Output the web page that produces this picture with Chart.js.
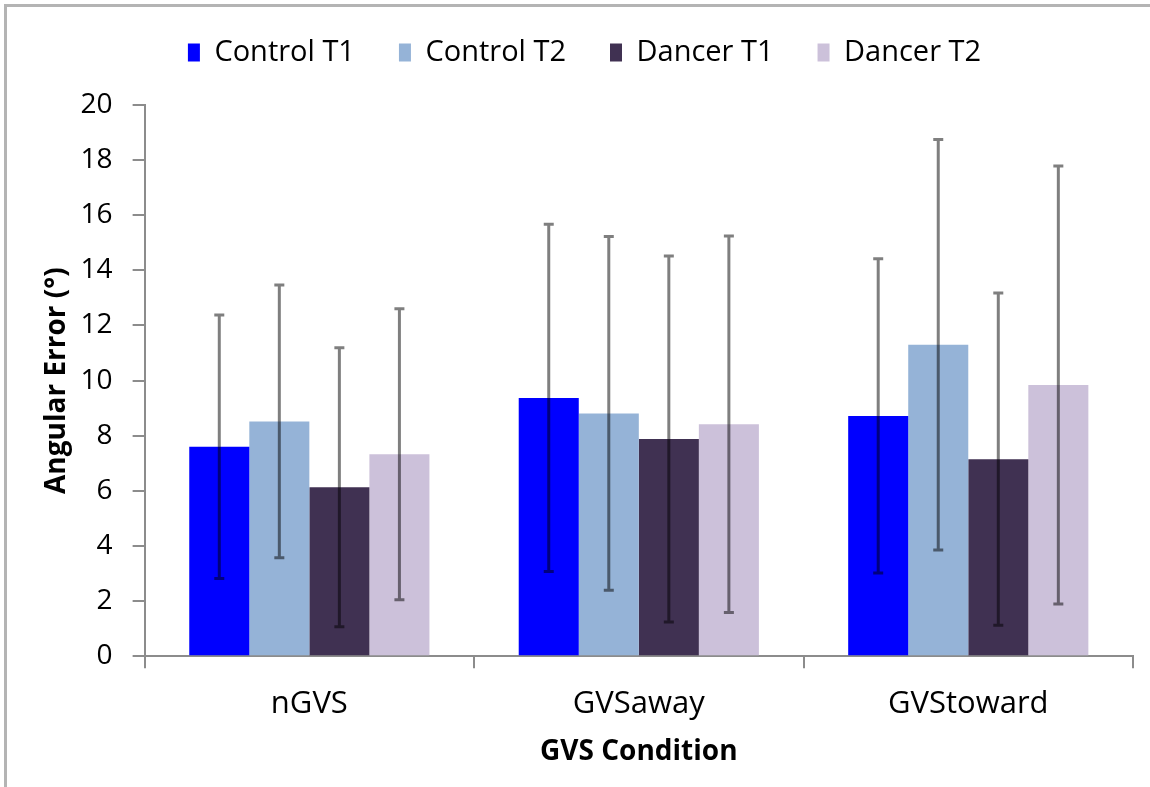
<!DOCTYPE html>
<html>
<head>
<meta charset="utf-8">
<script src="https://cdn.jsdelivr.net/npm/chart.js@4.4.1/dist/chart.umd.min.js"></script>
<style>
  body { margin: 0; background: #fff; }
  #wrap { position: relative; width: 1150px; height: 787px; }
  #frame { position: absolute; left: 4px; top: 4px; right: 0; bottom: 0;
           border-top: 3px solid #b4b4b4; border-left: 3px solid #b4b4b4; pointer-events: none; }
</style>
</head>
<body>
<div id="wrap">
  <canvas id="grafico" width="1150" height="787"></canvas>
  <div id="frame"></div>
</div>
<script>
// Dati
const categorie = ["nGVS", "GVSaway", "GVStoward"];
const controlT1 = [7.6, 9.37, 8.72];
const controlT2 = [8.52, 8.81, 11.3];
const dancerT1 = [6.13, 7.88, 7.15];
const dancerT2 = [7.33, 8.42, 9.84];

// Deviazioni (barre di errore simmetriche)
const controlT1Err = [4.78, 6.3, 5.7];
const controlT2Err = [4.95, 6.42, 7.45];
const dancerT1Err = [5.06, 6.64, 6.03];
const dancerT2Err = [5.28, 6.83, 7.95];

const yTicks = [0, 2, 4, 6, 8, 10, 12, 14, 16, 18, 20];

const FONT = "'Open Sans', sans-serif";

// Plugin per disegnare le barre di errore con le scale di Chart.js
const barreErrore = {
  id: "barreErrore",
  afterDatasetsDraw(chart) {
    const c = chart.ctx;
    const y = chart.scales.y;
    chart.data.datasets.forEach((ds, i) => {
      const meta = chart.getDatasetMeta(i);
      meta.data.forEach((bar, j) => {
        const v = ds.data[j];
        const e = ds.errori[j];
        const top = y.getPixelForValue(v + e);
        const bot = y.getPixelForValue(v - e);
        c.save();
        c.strokeStyle = "rgba(0,0,0,0.5)";
        c.lineWidth = 3;
        c.beginPath();
        c.moveTo(bar.x, top);
        c.lineTo(bar.x, bot);
        c.moveTo(bar.x - 5, top);
        c.lineTo(bar.x + 5, top);
        c.moveTo(bar.x - 5, bot);
        c.lineTo(bar.x + 5, bot);
        c.stroke();
        c.restore();
      });
    });
  },
};

// Spazio extra sotto la legenda
const spazioLegenda = {
  id: "spazioLegenda",
  beforeUpdate(chart) {
    const leg = chart.legend;
    if (leg && !leg._allungata) {
      const fit = leg.fit;
      leg.fit = function () {
        fit.call(this);
        this.height += 28;
      };
      leg._allungata = true;
    }
  },
};

const ctx = document.getElementById("grafico").getContext("2d");

new Chart(ctx, {
  type: "bar",
  data: {
    labels: categorie,
    datasets: [
      { label: "Control T1", data: controlT1, errori: controlT1Err, backgroundColor: "#0000FF" },
      { label: "Control T2", data: controlT2, errori: controlT2Err, backgroundColor: "#95B3D7" },
      { label: "Dancer T1", data: dancerT1, errori: dancerT1Err, backgroundColor: "#403152" },
      { label: "Dancer T2", data: dancerT2, errori: dancerT2Err, backgroundColor: "#CCC1DA" },
    ],
  },
  options: {
    responsive: false,
    animation: false,
    datasets: { bar: { barPercentage: 1, categoryPercentage: 0.729 } },
    layout: { padding: { left: 36, right: 17, top: -6, bottom: 14 } },
    plugins: {
      tooltip: { enabled: false },
      legend: {
        position: "top",
        labels: {
          boxWidth: 12,
          boxHeight: 18,
          padding: 44,
          color: "#000",
          font: { family: FONT, size: 29 },
        },
      },
    },
    scales: {
      y: {
        min: 0,
        max: 20,
        afterBuildTicks: (s) => { s.ticks = yTicks.map((v) => ({ value: v })); },
        border: { display: true, color: "#8c8c8c", width: 2 },
        grid: { drawOnChartArea: false, color: "#8c8c8c", tickLength: 12, lineWidth: 2 },
        ticks: { color: "#000", padding: 20, font: { family: FONT, size: 28 } },
        title: {
          display: true,
          text: "Angular Error (°)",
          color: "#000",
          font: { family: FONT, size: 28, weight: "bold" },
          padding: { top: 4, bottom: -13 },
        },
      },
      x: {
        border: { display: true, color: "#8c8c8c", width: 2 },
        grid: { drawOnChartArea: false, color: "#8c8c8c", tickLength: 12, lineWidth: 2, offset: true },
        ticks: { color: "#000", padding: 17, font: { family: FONT, size: 31 } },
        title: {
          display: true,
          text: "GVS Condition",
          color: "#000",
          font: { family: FONT, size: 28, weight: "bold" },
          padding: { top: -4, bottom: 4 },
        },
      },
    },
  },
  plugins: [barreErrore, spazioLegenda],
});
</script>
</body>
</html>
